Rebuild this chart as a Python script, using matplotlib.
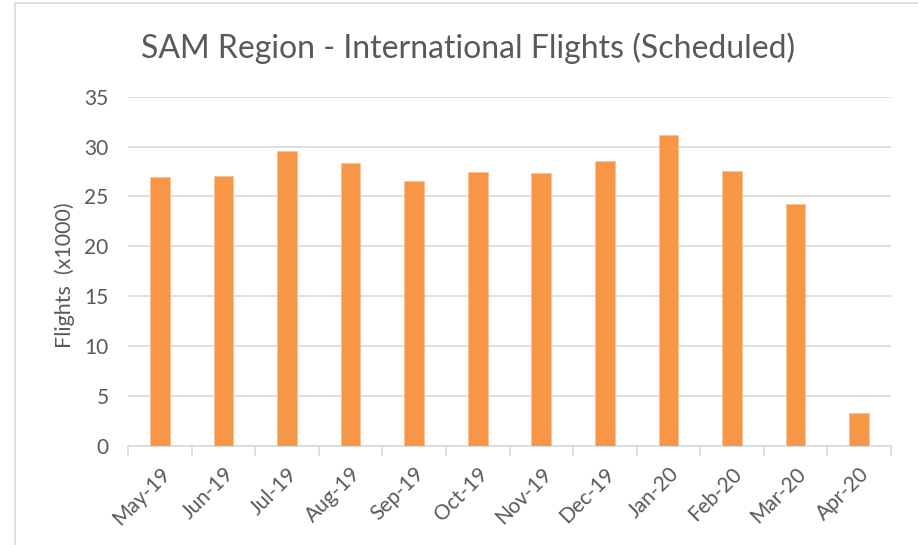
import matplotlib
matplotlib.use("Agg")
import matplotlib.pyplot as plt
from matplotlib.patches import Rectangle

months = ["May-19", "Jun-19", "Jul-19", "Aug-19", "Sep-19", "Oct-19",
          "Nov-19", "Dec-19", "Jan-20", "Feb-20", "Mar-20", "Apr-20"]
flights = [26.9, 27.0, 29.6, 28.4, 26.5, 27.4, 27.3, 28.6, 31.2, 27.5, 24.2, 3.3]
yticks = [0, 5, 10, 15, 20, 25, 30, 35]

BAR = "#F79646"
GRID = "#D9D9D9"
TXT = "#595959"

plt.rcParams['font.family'] = ['Lato', 'DejaVu Sans']

fig = plt.figure(figsize=(9.18, 5.45), dpi=100)
fig.patches.append(Rectangle((15 / 918, -0.1), 1.2, 1.1 - 3 / 545, transform=fig.transFigure,
                             fill=False, edgecolor=GRID, linewidth=1.2, zorder=0))
ax = fig.add_axes([128 / 918, 1 - 445.7 / 545, (891 - 128) / 918, (445.7 - 96.7) / 545])

x = list(range(len(months)))
ax.bar(x, flights, width=0.31, color=BAR, edgecolor="#FAC090", linewidth=0.6, zorder=3)

ax.set_xlim(-0.5, len(months) - 0.5)
ax.set_ylim(0, 35)
ax.set_yticks(yticks)
ax.set_yticklabels([str(v) for v in yticks], fontsize=15, color=TXT)
ax.yaxis.grid(True, color=GRID, linewidth=1.2, zorder=0)
ax.tick_params(axis='y', length=0, pad=14)

ax.set_xticks(x)
ax.set_xticklabels(months, rotation=45, ha='right', rotation_mode='anchor', fontsize=15, color=TXT)
ax.set_xticks([i - 0.5 for i in range(len(months) + 1)], minor=True)
ax.tick_params(axis='x', which='major', length=0, pad=13)
ax.tick_params(axis='x', which='minor', length=7, color=GRID, width=1.2)

for s in ['top', 'right', 'left']:
    ax.spines[s].set_visible(False)
ax.spines['bottom'].set_color(GRID)
ax.spines['bottom'].set_linewidth(1.2)

ax.set_ylabel("Flights  (x1000)", fontsize=15.5, color=TXT)
ax.yaxis.set_label_coords((75 - 128) / 763, (445.7 - 275) / 349)
fig.text(468 / 918, 1 - 58 / 545, "SAM Region - International Flights (Scheduled)",
         ha='center', va='baseline', fontsize=23, color=TXT)

fig.savefig("out.png", dpi=100)
